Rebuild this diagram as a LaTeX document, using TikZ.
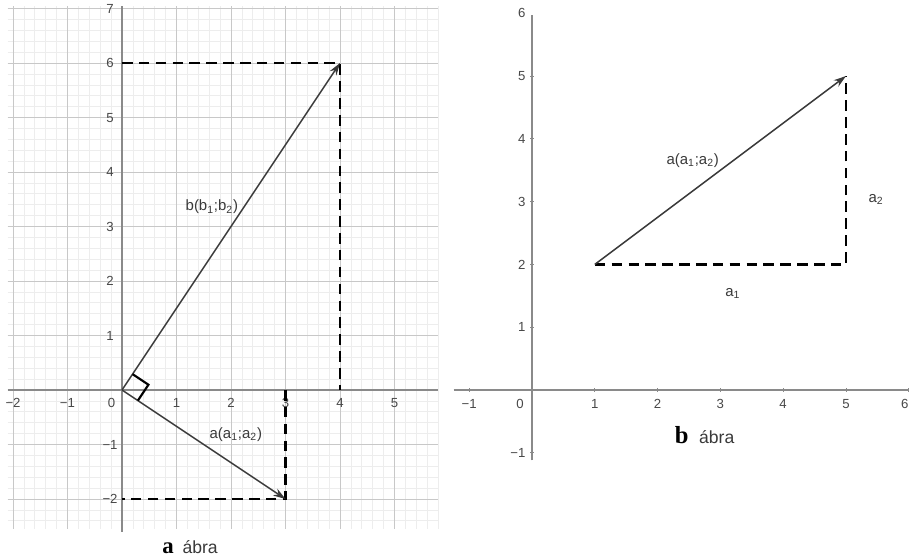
\documentclass[tikz,border=0pt]{standalone}
\usepackage{fontspec}
\setmainfont{Liberation Sans}
\newfontfamily\capserif{Liberation Serif}
\usetikzlibrary{arrows.meta}
\definecolor{minorg}{HTML}{EDEDED}
\definecolor{majorg}{HTML}{C8C8C8}
\definecolor{axisg}{HTML}{8A8A8A}
\definecolor{vecg}{HTML}{3A3A3A}
\definecolor{lblg}{HTML}{484848}
\tikzset{
  minorgrid/.style={draw=minorg, line width=0.4pt},
  majorgrid/.style={draw=majorg, line width=0.5pt},
  axisline/.style={draw=axisg, line width=0.9pt},
  vec/.style={draw=vecg, line width=0.85pt, -{Stealth[length=7pt,width=4.5pt]}},
  dashline/.style={draw=black, line width=1.6pt, dash pattern=on 6pt off 3.6pt},
  rightang/.style={draw=black, line width=1.2pt},
  ticklbl/.style={text=lblg, font=\fontsize{7.5}{8}\selectfont, inner sep=0pt},
  veclbl/.style={text=vecg, font=\fontsize{8.5}{10}\selectfont, inner sep=1pt},
  tickmark/.style={draw=axisg, line width=0.5pt}
}
\begin{document}
\begin{tikzpicture}[x=0.02cm,y=-0.02cm]
\useasboundingbox (0,0) rectangle (909,560);
\fill[white] (0,0) rectangle (909,560);

% ---------- left panel ----------
\begin{scope}[shift={(122,390)}, x=1.09cm, y=1.09cm]
  \draw[minorgrid, step=0.2] (-2.1,-2.55) grid (5.8,7.05);
  \draw[majorgrid, step=1] (-2.1,-2.55) grid (5.8,7.05);
  \draw[axisline] (-2.1,0) -- (5.8,0);
  \draw[axisline] (0,-2.6) -- (0,7.05);
  \foreach \x/\t in {-2/−2,-1/−1,1/1,2/2,3/3,4/4,5/5}
    \node[ticklbl] (lx\x) at (\x,-0.24) {\t};
  \node[ticklbl] (l0) at (-0.19,-0.24) {0};
  \foreach \y/\t in {-2/−2,-1/−1,1/1,2/2,3/3,4/4,5/5,6/6,7/7}
    \node[ticklbl] (ly\y) at (-0.22,\y) {\t};

  \coordinate (O) at (0,0);
  \coordinate (B) at (4,6);
  \coordinate (A) at (3,-2);
  \coordinate (By) at (0,6);
  \coordinate (Bx) at (4,0);
  \coordinate (Ax) at (3,0);
  \coordinate (Ay) at (0,-2);
  \draw[dashline] (By) -- (B) -- (Bx);
  \draw[dashline] (Ax) -- (A) -- (Ay);
  \draw[vec] (O) -- (B);
  \draw[vec] (O) -- (A);
  \coordinate (r1) at (0.194,0.291);
  \coordinate (r2) at (0.485,0.097);
  \coordinate (r3) at (0.291,-0.194);
  \draw[rightang] (r1) -- (r2) -- (r3);
  \node[veclbl] (bl) at (1.65,3.36) {b(b\textsubscript{1};b\textsubscript{2})};
  \node[veclbl] (al) at (2.09,-0.81) {a(a\textsubscript{1};a\textsubscript{2})};
\end{scope}

\node[inner sep=0pt, anchor=base] (capa) at (190,553)
  {{\capserif\bfseries\fontsize{13}{15}\selectfont a}\hspace{5pt}{\color{vecg}\fontsize{10}{12}\selectfont ábra}};

% ---------- right panel ----------
\begin{scope}[shift={(532,390)}, x=1.256cm, y=1.256cm]
  \draw[axisline] (-1.25,0) -- (6.05,0);
  \draw[axisline] (0,-1.12) -- (0,5.97);
  \foreach \x in {-1,1,2,3,4,5,6}
    \draw[tickmark] (\x,0.03) -- (\x,-0.03);
  \foreach \y in {-1,1,2,3,4,5}
    \draw[tickmark] (-0.03,\y) -- (0.03,\y);
  \foreach \x/\t in {-1/−1,1/1,2/2,3/3,4/4,5/5}
    \node[ticklbl] (rx\x) at (\x,-0.22) {\t};
  \node[ticklbl, anchor=east] (rx6) at (6.0,-0.22) {6};
  \node[ticklbl] (r0) at (-0.19,-0.22) {0};
  \foreach \y/\t in {-1/−1,1/1,2/2,3/3,4/4,5/5,6/6}
    \node[ticklbl, anchor=east] (ry\y) at (-0.1,\y) {\t};

  \coordinate (P) at (1,2);
  \coordinate (Q) at (5,5);
  \coordinate (R) at (5,2);
  \draw[dashline] (P) -- (R) -- (Q);
  \draw[vec] (P) -- (Q);
  \node[veclbl] (ral) at (2.56,3.66) {a(a\textsubscript{1};a\textsubscript{2})};
  \node[veclbl] (ra2) at (5.48,3.03) {a\textsubscript{2}};
  \node[veclbl] (ra1) at (3.2,1.54) {a\textsubscript{1}};
  \node[inner sep=0pt, anchor=base] (capb) at (2.75,-0.86)
    {{\capserif\bfseries\fontsize{14}{16}\selectfont b}\hspace{6pt}{\color{vecg}\fontsize{10}{12}\selectfont ábra}};
\end{scope}
\end{tikzpicture}
\end{document}
